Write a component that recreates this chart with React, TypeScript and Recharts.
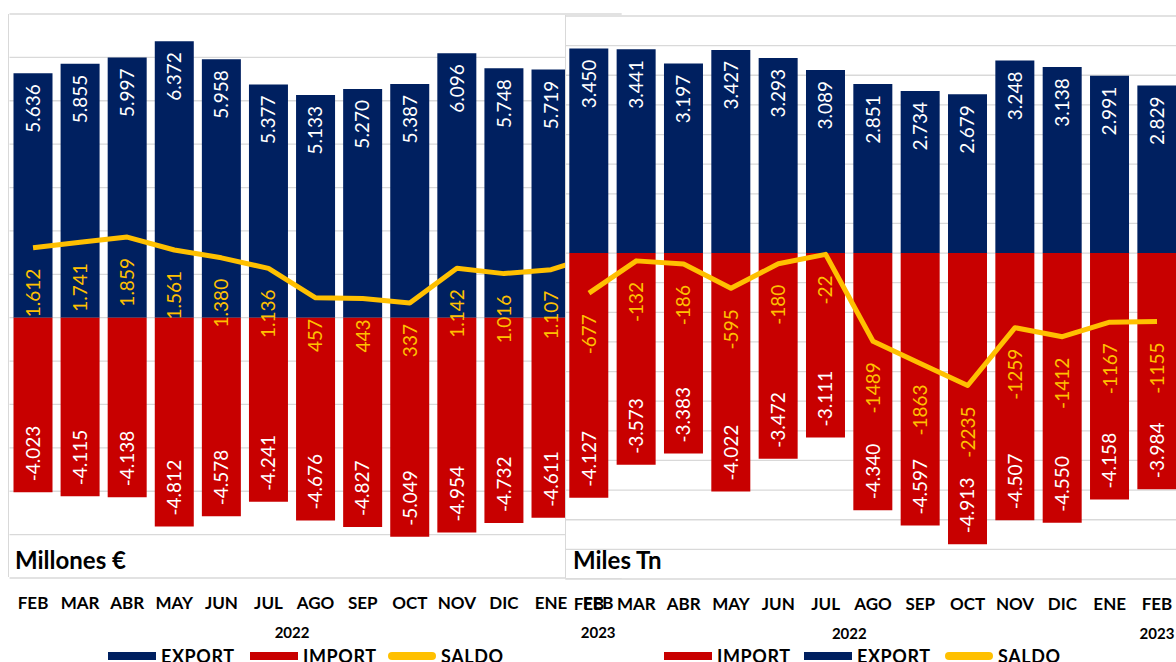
import React from "react";
import { ComposedChart, Bar, Line, XAxis, YAxis, CartesianGrid, LabelList } from "recharts";

const NAVY = "#002060";
const RED = "#C80000";
const GOLD = "#FFC000";
const FONT = "Lato, 'Open Sans', sans-serif";
const GRID = "#d9d9d9";

// categories
const months = ["FEB", "MAR", "ABR", "MAY", "JUN", "JUL", "AGO", "SEP", "OCT", "NOV", "DIC", "ENE", "FEB"];
const yearGroups = [
  { label: "2022", from: 0, to: 11 },
  { label: "2023", from: 12, to: 12 },
];

// Millones € (last point sits under the second chart, estimated)
const eurExport = [5636, 5855, 5997, 6372, 5958, 5377, 5133, 5270, 5387, 6096, 5748, 5719, 5650];
const eurImport = [-4023, -4115, -4138, -4812, -4578, -4241, -4676, -4827, -5049, -4954, -4732, -4611, -4200];
const eurSaldo = [1612, 1741, 1859, 1561, 1380, 1136, 457, 443, 337, 1142, 1016, 1107, 1450];
const eurTicks = [-6000, -5000, -4000, -3000, -2000, -1000, 0, 1000, 2000, 3000, 4000, 5000, 6000, 7000];

// Miles Tn
const tnExport = [3450, 3441, 3197, 3427, 3293, 3089, 2851, 2734, 2679, 3248, 3138, 2991, 2829];
const tnImport = [-4127, -3573, -3383, -4022, -3472, -3111, -4340, -4597, -4913, -4507, -4550, -4158, -3984];
const tnSaldo = [-677, -132, -186, -595, -180, -22, -1489, -1863, -2235, -1259, -1412, -1167, -1155];
const tnTicks = [-5500, -5000, -4500, -4000, -3500, -3000, -2500, -2000, -1500, -1000, -500, 0, 500, 1000, 1500, 2000, 2500, 3000, 3500, 4000];

const dotted = (v: number) => {
  const s = Math.abs(v).toString().replace(/\B(?=(\d{3})+(?!\d))/g, ".");
  return v < 0 ? "-" + s : s;
};
const plain = (v: number) => String(v);

const build = (exp: number[], imp: number[], sal: number[]) =>
  months.map((m, i) => ({ key: m + i, export: exp[i], import: imp[i], saldo: sal[i] }));

const eurData = build(eurExport, eurImport, eurSaldo);
const tnData = build(tnExport, tnImport, tnSaldo);

const LABEL_SIZE = 19;

const rotText = (x: number, y: number, anchor: string, fill: string, txt: string) => (
  <text
    x={x}
    y={y}
    transform={`rotate(-90 ${x} ${y})`}
    textAnchor={anchor}
    dy="0.36em"
    fill={fill}
    fontSize={LABEL_SIZE}
    fontFamily={FONT}
  >
    {txt}
  </text>
);

const topLabel = (p: any) => {
  if (p.value == null) return null;
  const top = Math.min(p.y, p.y + p.height);
  return rotText(p.x + p.width / 2, top + 11, "end", "#fff", dotted(p.value));
};

const bottomLabel = (p: any) => {
  if (p.value == null) return null;
  const bottom = Math.max(p.y, p.y + p.height);
  return rotText(p.x + p.width / 2, bottom - 11, "start", "#fff", dotted(p.value));
};

const saldoLabel = (fmt: (v: number) => string) => (p: any) => {
  if (p.value == null) return null;
  return rotText(p.x, p.y + 21, "end", GOLD, fmt(p.value));
};

const makeTick = (band: number) => (p: any) => {
  const { x, y, payload } = p;
  const i = payload.index;
  const grp = yearGroups.find((g) => g.from === i);
  return (
    <g>
      <text x={x} y={y + 24} textAnchor="middle" dominantBaseline="central" fontFamily={FONT} fontWeight={700} fontSize={17} fill="#000">
        {months[i]}
      </text>
      {grp && (
        <text
          x={x + ((grp.to - grp.from) * band) / 2}
          y={y + 54}
          textAnchor="middle"
          dominantBaseline="central"
          fontFamily={FONT}
          fontWeight={700}
          fontSize={15}
          fill="#000"
        >
          {grp.label}
        </text>
      )}
    </g>
  );
};

type PanelProps = {
  data: any[];
  ticks: number[];
  width: number;
  margin: { top: number; right: number; bottom: number; left: number };
  saldoFmt: (v: number) => string;
};

function Panel({ data, ticks, width, margin, saldoFmt }: PanelProps) {
  const band = (width - margin.left - margin.right) / data.length;
  return (
    <ComposedChart width={width} height={662} data={data} margin={margin} stackOffset="sign">
      <CartesianGrid vertical={false} stroke={GRID} strokeWidth={1.3} />
      <YAxis hide domain={[ticks[0], ticks[ticks.length - 1]]} ticks={ticks} />
      <XAxis
        dataKey="key"
        height={60}
        interval={0}
        axisLine={false}
        tickLine={false}
        tickSize={0}
        tickMargin={0}
        tick={makeTick(band)}
      />
      <Bar dataKey="export" stackId="a" fill={NAVY} barSize={39} isAnimationActive={false}>
        <LabelList dataKey="export" content={topLabel} />
      </Bar>
      <Bar dataKey="import" stackId="a" fill={RED} barSize={39} isAnimationActive={false}>
        <LabelList dataKey="import" content={bottomLabel} />
      </Bar>
      <Line
        dataKey="saldo"
        stroke={GOLD}
        strokeWidth={5}
        dot={false}
        type="linear"
        strokeLinejoin="round"
        isAnimationActive={false}
      >
        <LabelList dataKey="saldo" content={saldoLabel(saldoFmt)} />
      </Line>
    </ComposedChart>
  );
}

const legendText: React.CSSProperties = {
  position: "absolute",
  top: 647,
  fontFamily: FONT,
  fontWeight: 700,
  fontSize: 18,
  lineHeight: "18px",
  letterSpacing: 0.6,
  color: "#000",
};

function LegendItem({ x, color, label, round }: { x: number; color: string; label: string; round?: boolean }) {
  return (
    <>
      <div style={{ position: "absolute", left: x, top: 652, width: 48, height: 8, background: color, borderRadius: round ? 4 : 0 }} />
      <div style={{ ...legendText, left: x + 53 }}>{label}</div>
    </>
  );
}

const unitText: React.CSSProperties = {
  position: "absolute",
  top: 548,
  fontFamily: FONT,
  fontWeight: 700,
  fontSize: 24,
  lineHeight: "24px",
  color: "#000",
};

export default function App() {
  return (
    <div style={{ position: "fixed", left: 0, top: 0, width: 1176, height: 662, overflow: "hidden", background: "#fff" }}>
      {/* left frame */}
      <div style={{ position: "absolute", left: 8, top: 14, width: 600, height: 563, borderLeft: `1.5px solid ${GRID}` }} />
      <div style={{ position: "absolute", left: 0, top: 0 }}>
        <Panel
          data={eurData}
          ticks={eurTicks}
          width={640}
          margin={{ top: 14, right: 18.3, bottom: 24, left: 9.5 }}
          saldoFmt={dotted}
        />
      </div>
      <div style={unitText as any}>
        <span style={{ position: "absolute", left: 15, whiteSpace: "nowrap" }}>Millones €</span>
      </div>
      {/* second chart plot background */}
      <div
        style={{
          position: "absolute",
          left: 565,
          top: 15,
          width: 640,
          height: 563,
          background: "#fff",
          borderLeft: `1.5px solid ${GRID}`,
        }}
      />
      <div style={{ position: "absolute", left: 0, top: 0 }}>
        <Panel
          data={tnData}
          ticks={tnTicks}
          width={1192}
          margin={{ top: 16, right: 11.3, bottom: 23, left: 565.3 }}
          saldoFmt={plain}
        />
      </div>
      <div style={{ ...unitText, left: 573, whiteSpace: "nowrap" }}>Miles Tn</div>

      <LegendItem x={108} color={NAVY} label="EXPORT" />
      <LegendItem x={250} color={RED} label="IMPORT" />
      <LegendItem x={388} color={GOLD} label="SALDO" round />

      <LegendItem x={664} color={RED} label="IMPORT" />
      <LegendItem x={804} color={NAVY} label="EXPORT" />
      <LegendItem x={945} color={GOLD} label="SALDO" round />
    </div>
  );
}
